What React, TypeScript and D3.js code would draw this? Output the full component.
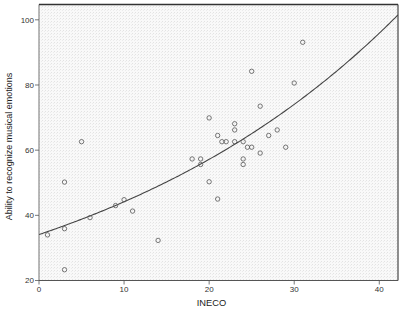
import React from "react";
import * as d3 from "d3";

const ineco: number[] = [1, 3, 3, 3, 5, 6, 9, 10, 11, 14, 18, 19, 19, 20, 20, 21, 21, 21.5, 22, 23, 23, 23, 24, 24, 24, 24.5, 25, 25, 26, 26, 27, 28, 29, 30, 31];
const ability: number[] = [34.0, 35.9, 50.2, 23.3, 62.6, 39.3, 43.0, 44.8, 41.3, 32.3, 57.3, 57.3, 55.6, 69.9, 50.3, 64.5, 45.0, 62.6, 62.6, 68.1, 66.2, 62.6, 62.6, 57.3, 55.6, 60.9, 60.9, 84.2, 59.1, 73.5, 64.5, 66.2, 60.9, 80.6, 93.1];
const xTicks: number[] = [0, 10, 20, 30, 40];
const yTicks: number[] = [20, 40, 60, 80, 100];
// exponential fit y = a * exp(b * x)
const fitA = 34.1;
const fitB = 0.02585;

const W = 400;
const H = 314;
const left = 39;
const right = 398;
const top = 4.5;
const bottom = 280.5;

export default function App() {
  const x = d3.scaleLinear().domain([0, 42.2]).range([left, right]);
  const y = d3.scaleLinear().domain([20, 104.7]).range([bottom, top]);
  const fitXs = d3.range(0, 42.2 + 0.001, 0.2);
  const line = d3
    .line<number>()
    .x((d) => x(d))
    .y((d) => y(fitA * Math.exp(fitB * d)))
    .curve(d3.curveLinear);
  const font = "'Liberation Sans', Arial, sans-serif";
  return (
    <svg
      width={W}
      height={H}
      style={{ position: "absolute", left: 0, top: 0, background: "#fff" }}
    >
      <defs>
        <pattern id="stip" width="3" height="3" patternUnits="userSpaceOnUse">
          <rect width="3" height="3" fill="#f9f9f9" />
          <rect x="0" y="0" width="1" height="1" fill="#e3e3e3" />
          <rect x="2" y="1" width="1" height="1" fill="#ececec" />
        </pattern>
        <clipPath id="clip">
          <rect x={left} y={top} width={right - left} height={bottom - top} />
        </clipPath>
      </defs>
      <rect x={left} y={top} width={right - left} height={bottom - top} fill="url(#stip)" />
      <line x1={left} x2={left} y1={top} y2={bottom} stroke="#8a8a8a" strokeWidth={1.2} />
      <line x1={right} x2={right} y1={top} y2={bottom} stroke="#444" strokeWidth={1.2} />
      <line x1={left} x2={right} y1={top} y2={top} stroke="#333" strokeWidth={1.6} />
      <line x1={left} x2={right} y1={bottom} y2={bottom} stroke="#555" strokeWidth={1} />
      {yTicks.map((t) => (
        <g key={"y" + t}>
          <line x1={left - 4} x2={left} y1={y(t)} y2={y(t)} stroke="#555" strokeWidth={0.8} />
          <text x={left - 5} y={y(t)} dy="0.35em" textAnchor="end" fontFamily={font} fontSize={8} fill="#333">
            {t}
          </text>
        </g>
      ))}
      {xTicks.map((t) => (
        <g key={"x" + t}>
          <line x1={x(t)} x2={x(t)} y1={bottom} y2={bottom + 4} stroke="#555" strokeWidth={0.8} />
          <text x={x(t)} y={bottom + 9} dy="0.35em" textAnchor="middle" fontFamily={font} fontSize={8} fill="#333">
            {t}
          </text>
        </g>
      ))}
      <g clipPath="url(#clip)">
        <path d={line(fitXs) || ""} fill="none" stroke="#444" strokeWidth={1.1} />
      </g>
      {ineco.map((v, i) => (
        <circle key={i} cx={x(v)} cy={y(ability[i])} r={2.2} fill="none" stroke="#555" strokeWidth={0.8} />
      ))}
      <text x={211.5} y={303} dy="0.35em" textAnchor="middle" fontFamily={font} fontSize={9.3} fill="#222">
        INECO
      </text>
      <text
        transform={`translate(8.5, ${(top + bottom) / 2 + 4}) rotate(-90)`}
        dy="0.35em"
        textAnchor="middle"
        fontFamily={font}
        fontSize={9}
        fill="#222"
      >
        Ability to recognize musical emotions
      </text>
    </svg>
  );
}
